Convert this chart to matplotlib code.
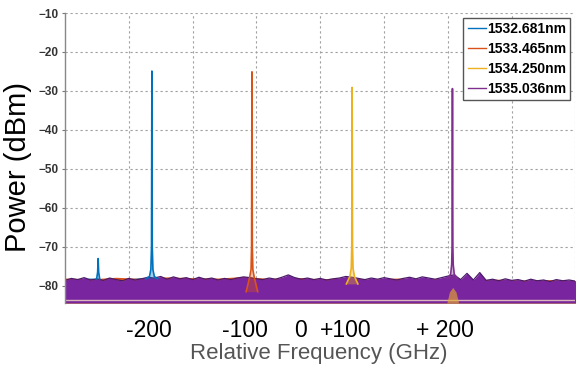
import matplotlib.pyplot as plt
import numpy as np

plt.rcParams['font.family'] = ['Liberation Sans', 'DejaVu Sans']

labels = ['1532.681nm', '1533.465nm', '1534.250nm', '1535.036nm']
colors = ['#0072BD', '#D95319', '#EDB120', '#7E2F8E']
band_purple = '#7a25a0'

# peak traces (nm, dBm)
blue_wl = [1532.635, 1532.662, 1532.673, 1532.678, 1532.681, 1532.684, 1532.689, 1532.700, 1532.727]
blue_db = [-78.2, -77.6, -75.8, -70.0, -24.9, -70.0, -75.8, -77.6, -78.2]
blue_side_wl = [1532.248, 1532.256, 1532.260, 1532.264, 1532.272]
blue_side_db = [-78.2, -76.5, -73.0, -76.5, -78.2]

orange_wl = [1533.420, 1533.447, 1533.458, 1533.462, 1533.465, 1533.468, 1533.472, 1533.483, 1533.510]
orange_db = [-81.5, -77.8, -75.8, -70.0, -25.1, -70.0, -75.8, -77.8, -81.5]

yellow_wl = [1534.205, 1534.232, 1534.243, 1534.247, 1534.250, 1534.253, 1534.257, 1534.268, 1534.295]
yellow_db = [-79.5, -77.6, -75.5, -70.0, -29.1, -70.0, -75.5, -77.6, -79.5]
yellow_bump_wl = [1534.992, 1535.012, 1535.038, 1535.064, 1535.084]
yellow_bump_db = [-84.4, -81.6, -80.4, -81.6, -84.4]

purple_wl = [1534.995, 1535.022, 1535.030, 1535.033, 1535.036, 1535.039, 1535.042, 1535.050, 1535.077]
purple_db = [-78.2, -77.0, -74.5, -70.0, -29.4, -70.0, -74.5, -77.0, -78.2]

# noise floor, upper envelope
coarse_wl = np.linspace(1532.0, 1536.0, 21)
blue_floor = [-78.2, -78.0, -78.4, -77.9, -78.3, -78.1, -78.5, -78.2, -78.6, -78.3, -78.5,
              -78.4, -78.6, -78.5, -78.7, -78.6, -78.8, -78.7, -78.9, -78.8, -79.0]
orange_floor = [-78.0, -78.2, -77.8, -78.1, -77.7, -77.9, -78.0, -77.6, -78.1, -77.8, -78.2,
                -77.9, -78.3, -78.0, -78.2, -78.1, -78.4, -78.3, -78.5, -78.4, -78.6]
yellow_floor = [-78.6, -78.8, -78.5, -78.7, -78.4, -78.8, -78.6, -78.5, -78.9, -78.7, -78.6,
                -78.8, -78.7, -78.9, -79.0, -78.8, -79.1, -79.0, -79.2, -79.1, -79.3]

fine_wl = np.linspace(1532.0, 1536.0, 81)
purple_floor = [-78.6, -78.1, -78.4, -77.9, -78.5, -78.2, -78.6, -78.0, -78.4, -78.7,
                -78.1, -78.5, -78.2, -77.8, -78.0, -77.6, -78.3, -77.7, -78.2, -77.9,
                -78.4, -77.8, -78.3, -78.0, -78.5, -78.1, -78.4, -78.0, -77.7, -77.9,
                -78.2, -78.4, -78.0, -78.3, -77.8, -77.2, -77.9, -78.3, -78.0, -78.4,
                -78.1, -78.5, -78.2, -78.0, -77.6, -77.8, -78.1, -78.4, -78.0, -78.3,
                -77.9, -78.2, -78.5, -78.1, -77.8, -78.2, -77.7, -78.0, -78.3, -77.9,
                -77.5, -77.2, -78.4, -76.8, -78.5, -76.6, -78.6, -78.3, -78.7, -78.2,
                -78.6, -78.4, -78.8, -78.3, -78.7, -78.5, -78.9, -78.4, -78.7, -78.5,
                -78.8]
floor_bottom = -84.4
pale_line = -83.6

tick_text = ['-200', '-100', '0', '+100', '+ 200']
tick_pos = [1532.658, 1533.411, 1533.842, 1534.202, 1534.978]

fig = plt.figure(figsize=(5.76, 3.73), dpi=100)
ax = fig.add_axes([0.1128, 0.1877, 0.8863, 0.7774])

floor_colors = colors[:3] + [band_purple]
floors = [(coarse_wl, blue_floor), (coarse_wl, orange_floor), (coarse_wl, yellow_floor), (fine_wl, purple_floor)]
for (wl, top), c in zip(floors, floor_colors):
    ax.fill_between(wl, floor_bottom, top, color=c, lw=0, zorder=2)
ax.plot(fine_wl, purple_floor, color='#4a1a6a', lw=0.9, zorder=2.1)
ax.plot([1532.0, 1536.0], [pale_line, pale_line], color='#f3dcc0', lw=1.0, alpha=0.8, zorder=2.2)

peaks = [[(blue_wl, blue_db), (blue_side_wl, blue_side_db)],
         [(orange_wl, orange_db)],
         [(yellow_wl, yellow_db)],
         [(purple_wl, purple_db)]]
for traces, c, lab in zip(peaks, colors, labels):
    for i, (wl, db) in enumerate(traces):
        ax.fill_between(wl, min(db), db, color=c, alpha=0.35, lw=0, zorder=3)
        ax.plot(wl, db, color=c, lw=1.2, zorder=3.1, label=lab if i == 0 else None)
ax.fill_between(yellow_bump_wl, floor_bottom, yellow_bump_db, color=colors[2], alpha=0.6, lw=0, zorder=3)

ax.set_xlim(1532.0, 1536.0)
ax.set_ylim(-84.4, -10)
ax.set_xticks(np.arange(1532.5, 1536.01, 0.5))
ax.set_xticklabels([])
ax.tick_params(axis='x', length=0)
ax.set_yticks(np.arange(-80, -9, 10))
ax.tick_params(axis='y', length=2.5, width=0.8, color='#777', pad=2, labelsize=8.5, labelcolor='#333')
for t in ax.get_yticklabels():
    t.set_fontweight('bold')
ax.grid(True, color='#a0a0a0', lw=0.8, linestyle=(0, (2, 2.5)), zorder=1)
for s in ['top', 'right', 'bottom']:
    ax.spines[s].set_visible(False)
ax.spines['left'].set_color('#888888')
ax.spines['left'].set_linewidth(1.0)

for txt, p in zip(tick_text, tick_pos):
    ax.text(p, -0.0966, txt, transform=ax.get_xaxis_transform(), ha='center', va='center',
            fontsize=16.5, color='black')
fig.text(0.5538, 0.0536, 'Relative Frequency (GHz)', ha='center', va='center', fontsize=16, color='#555555')
fig.text(0.031, 0.5536, 'Power (dBm)', ha='center', va='center', rotation=90, fontsize=21, color='black')

leg = ax.legend(loc='upper right', bbox_to_anchor=(0.99, 0.983), borderaxespad=0, fancybox=False,
                edgecolor='#555555', framealpha=1, prop={'size': 10, 'weight': 'bold'},
                handlelength=1.3, handletextpad=0.1, labelspacing=0.42, borderpad=0.3)
leg.get_frame().set_linewidth(1.0)
for ln in leg.get_lines():
    ln.set_linewidth(1.0)

fig.savefig('out.png', dpi=100)
